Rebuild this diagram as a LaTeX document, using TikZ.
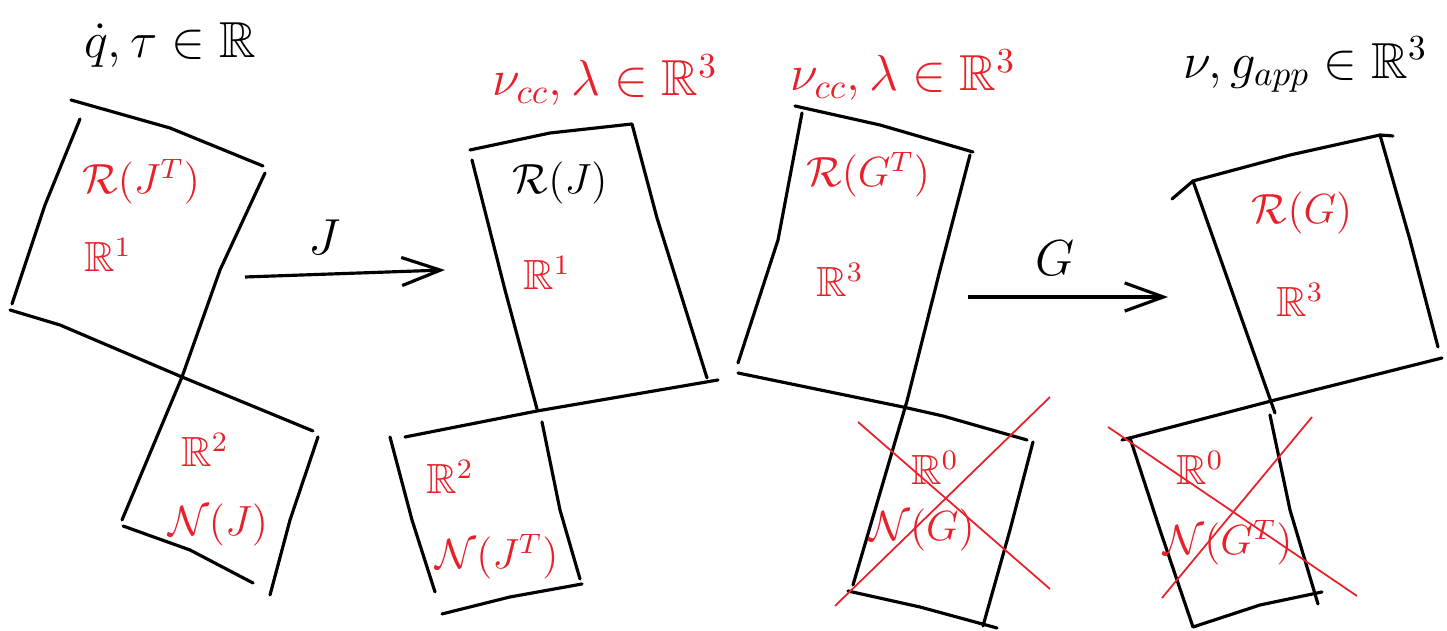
\documentclass[tikz,border=0pt]{standalone}
\usepackage{amsmath}
\usepackage{amssymb}
\usepackage{xcolor}
\usepackage{tikz}
\usetikzlibrary{arrows.meta}
\definecolor{inkRed}{HTML}{E8202A}

\begin{document}
\begin{tikzpicture}[x=0.01cm, y=-0.01cm,
    edge/.style={line width=0.9pt, line cap=round, line join=round},
    cross/.style={inkRed, line width=0.5pt},
    redlabel/.style={inkRed, font=\large},
    inklabel/.style={font=\large},
    toplabel/.style={font=\Large},
    mapping/.style={line width=0.9pt, -{Straight Barb[length=11pt, width=8pt, line width=0.9pt]}}]
    \useasboundingbox (0,0) rectangle (1447,631);

    \draw[edge] (71,100) -- (170,128) -- (263,166);
    \draw[edge] (80,119) -- (45,205) -- (12,304);
    \draw[edge] (10,310) -- (60,325) -- (182,377) -- (250,405) -- (313,431);
    \draw[edge] (265,173) -- (220,270) -- (182,377) -- (122,520);
    \draw[edge] (318,437) -- (290,520) -- (270,595);
    \draw[edge] (123,526) -- (190,550) -- (253,583);

    \draw[edge] (470,150) -- (550,133) -- (632,124) -- (657,218) -- (707,378);
    \draw[edge] (472,160) -- (505,290) -- (537,409);
    \draw[edge] (405,437) -- (537,411) -- (718,380);
    \draw[edge] (390,437) -- (412,520) -- (435,592);
    \draw[edge] (542,422) -- (560,510) -- (580,579);
    \draw[edge] (442,614) -- (510,597) -- (582,584);

    \draw[edge] (795,106) -- (880,125) -- (973,152);
    \draw[edge] (802,113) -- (778,240) -- (738,363);
    \draw[edge] (970,155) -- (940,270) -- (907,401) -- (853,585);
    \draw[edge] (738,373) -- (903,407) -- (943,416) -- (1027,440);
    \draw[edge] (1033,442) -- (1010,530) -- (983,626);
    \draw[edge] (848,591) -- (920,607) -- (997,628);

    \draw[edge] (1172,199) -- (1193,181) -- (1290,155) -- (1380,135) -- (1393,136);
    \draw[edge] (1193,181) -- (1235,300) -- (1275,413);
    \draw[edge] (1380,135) -- (1410,240) -- (1438,347);
    \draw[edge] (1122,440) -- (1275,400) -- (1442,358);
    \draw[edge] (1130,438) -- (1160,530) -- (1193,627);
    \draw[edge] (1270,415) -- (1290,510) -- (1318,604);
    \draw[edge] (1193,627) -- (1260,605) -- (1322,592);

    \draw[cross] (858,422) -- (1050,589);
    \draw[cross] (1050,397) -- (835,606);
    \draw[cross] (1108,427) -- (1357,596);
    \draw[cross] (1312,417) -- (1162,598);

    \coordinate (jtail) at (245,277);
    \coordinate (jtip) at (445,270);
    \coordinate (gtail) at (968,297);
    \coordinate (gtip) at (1168,297);
    \draw[mapping] (jtail) -- (jtip);
    \draw[mapping] (gtail) -- (gtip);
    \node[toplabel] (jname) at (325,237) {$J$};
    \node[toplabel] (gname) at (1055,258) {$G$};

    \node[toplabel] (jointvars) at (170,45) {$\dot{q}, \tau \in \mathbb{R}$};
    \node[redlabel] (rowJ) at (141,182) {$\mathcal{R}(J^T)$};
    \node[redlabel] (rowJdim) at (108,255) {$\mathbb{R}^1$};
    \node[redlabel] (nullJdim) at (205,450) {$\mathbb{R}^2$};
    \node[redlabel] (nullJ) at (218,525) {$\mathcal{N}(J)$};

    \node[toplabel, inkRed] (ccvarsA) at (605,80) {$\nu_{cc}, \lambda \in \mathbb{R}^3$};
    \node[inklabel] (colJ) at (560,183) {$\mathcal{R}(J)$};
    \node[redlabel] (colJdim) at (547,273) {$\mathbb{R}^1$};
    \node[redlabel] (leftJdim) at (450,477) {$\mathbb{R}^2$};
    \node[redlabel] (leftJ) at (497,557) {$\mathcal{N}(J^T)$};

    \node[toplabel, inkRed] (ccvarsB) at (903,75) {$\nu_{cc}, \lambda \in \mathbb{R}^3$};
    \node[redlabel] (rowG) at (868,175) {$\mathcal{R}(G^T)$};
    \node[redlabel] (rowGdim) at (840,280) {$\mathbb{R}^3$};
    \node[redlabel] (nullGdim) at (935,468) {$\mathbb{R}^0$};
    \node[redlabel] (nullG) at (922,530) {$\mathcal{N}(G)$};

    \node[toplabel, anchor=east] (appvars) at (1440,65) {$\nu, g_{app} \in \mathbb{R}^3$};
    \node[redlabel] (colG) at (1302,213) {$\mathcal{R}(G)$};
    \node[redlabel] (colGdim) at (1300,300) {$\mathbb{R}^3$};
    \node[redlabel] (leftGdim) at (1200,468) {$\mathbb{R}^0$};
    \node[redlabel] (leftG) at (1228,543) {$\mathcal{N}(G^T)$};
\end{tikzpicture}
\end{document}
